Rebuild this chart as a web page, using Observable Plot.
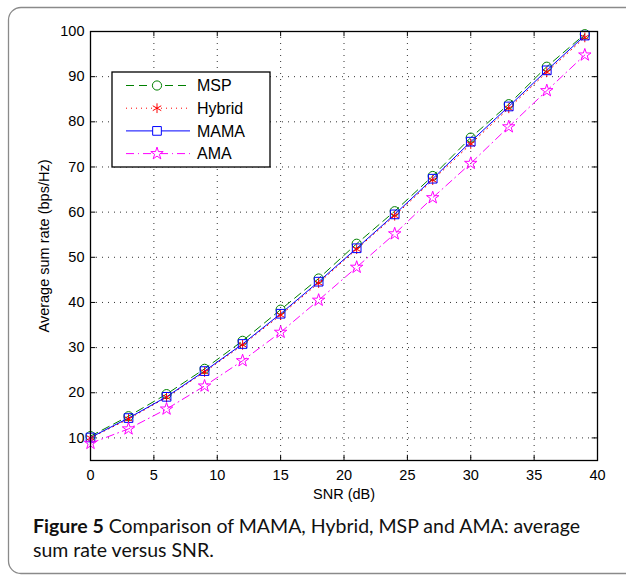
<!DOCTYPE html>
<html>
<head>
<meta charset="utf-8">
<script src="https://cdn.jsdelivr.net/npm/d3@7"></script>
<script src="https://cdn.jsdelivr.net/npm/@observablehq/plot@0.6"></script>
<style>
  html, body { margin: 0; padding: 0; background: #fff; overflow: hidden; }
  #wrap { position: relative; width: 626px; height: 578px; overflow: hidden; }
  #border { position: absolute; left: 0; top: 0; }
  #chart { position: absolute; left: 0; top: 0; }
  #caption { position: absolute; left: 33px; top: 514px; width: 590px;
             font-family: Lato, "Open Sans", sans-serif; font-size: 19.5px; line-height: 24px;
             color: #111; }
  #caption b { font-weight: 700; }
</style>
</head>
<body>
<div id="wrap">
  <svg id="border" width="626" height="578"><path d="M626,7.5 H21 A12.5,12.5 0 0 0 8.5,20 V561 A12.5,12.5 0 0 0 21,573.5 H626" fill="none" stroke="#8a8a8a" stroke-width="1.3"/></svg>
  <div id="chart"></div>
  <div id="caption"><b>Figure 5</b> Comparison of MAMA, Hybrid, MSP and AMA: average<br>sum rate versus SNR.</div>
</div>
<script>
const snr    = [0, 3, 6, 9, 12, 15, 18, 21, 24, 27, 30, 33, 36, 39];
const msp    = [10.4, 14.8, 19.7, 25.3, 31.5, 38.4, 45.3, 53.0, 60.2, 68.0, 76.5, 83.9, 92.2, 99.4];
const hybrid = [10.0, 14.2, 19.0, 24.6, 30.6, 37.2, 44.3, 51.8, 59.2, 67.1, 75.1, 83.0, 91.0, 98.7];
const mama   = [10.1, 14.4, 19.1, 24.8, 30.8, 37.5, 44.6, 52.0, 59.5, 67.4, 75.6, 83.4, 91.4, 99.1];
const ama    = [8.8, 12.0, 16.4, 21.5, 27.1, 33.4, 40.5, 47.8, 55.2, 63.2, 70.8, 78.9, 86.9, 94.8];
const xTicks = [0, 5, 10, 15, 20, 25, 30, 35, 40];
const yTicks = [10, 20, 30, 40, 50, 60, 70, 80, 90, 100];
const seriesNames = ["MSP", "Hybrid", "MAMA", "AMA"];

const styles = {
  MSP:    {color: "#008000", dash: "8,5", symbol: "circle", r: 4.6},
  Hybrid: {color: "#ff0000", dash: "1,4", symbol: "asterisk", r: 4.6},
  MAMA:   {color: "#0000ff", dash: null, symbol: "square", r: 4.9},
  AMA:    {color: "#ff00ff", dash: "8,4,1,4", symbol: "star", r: 3.9}
};
const values = {MSP: msp, Hybrid: hybrid, MAMA: mama, AMA: ama};
const rows = seriesNames.map(name => snr.map((x, i) => ({x, y: values[name][i], name})));

const W = 626, H = 510;
const marks = [
  Plot.gridX(xTicks, {stroke: "#000", strokeOpacity: 0.8, strokeDasharray: "1,5"}),
  Plot.gridY(yTicks, {stroke: "#000", strokeOpacity: 0.8, strokeDasharray: "1,5"}),
  Plot.axisX(xTicks, {tickSize: 0, tickPadding: 9, fontSize: 14.5, fontFamily: "Liberation Sans, Arial, sans-serif",
    label: "SNR (dB)", labelAnchor: "center", labelArrow: "none", labelOffset: 38, fill: "#000"}),
  Plot.axisY(yTicks, {tickSize: 0, tickPadding: 6, fontSize: 14.5, fontFamily: "Liberation Sans, Arial, sans-serif",
    label: "Average sum rate (bps/Hz)", labelAnchor: "center", labelArrow: "none", labelOffset: 52, fill: "#000"}),
  // inward ticks on all four sides
  Plot.ruleX(xTicks, {y1: 5, y2: 6.15, stroke: "#000"}),
  Plot.ruleX(xTicks, {y1: 100, y2: 98.85, stroke: "#000"}),
  Plot.ruleY(yTicks, {x1: 0, x2: 0.42, stroke: "#000"}),
  Plot.ruleY(yTicks, {x1: 40, x2: 39.58, stroke: "#000"})
];
for (const name of seriesNames) {
  const s = styles[name];
  const data = rows[seriesNames.indexOf(name)];
  marks.push(Plot.line(data, {x: "x", y: "y", stroke: s.color, strokeWidth: 1, strokeDasharray: s.dash}));
}
for (const name of seriesNames) {
  const s = styles[name];
  const data = rows[seriesNames.indexOf(name)];
  marks.push(Plot.dot(data, {x: "x", y: "y", stroke: s.color, fill: "none", strokeWidth: 1, symbol: s.symbol, r: s.r}));
}
marks.push(Plot.frame({stroke: "#000", strokeWidth: 1.3}));

const chart = Plot.plot({
  width: W, height: H,
  marginLeft: 90, marginRight: 29, marginTop: 31, marginBottom: 50,
  x: {domain: [0, 40]},
  y: {domain: [5, 100]},
  style: {fontFamily: "Liberation Sans, Arial, sans-serif", fontSize: "14.5px", color: "#000", background: "none"},
  marks
});
document.getElementById("chart").appendChild(chart);

// Legend box
const svg = d3.select(chart);
const lg = svg.append("g").attr("transform", "translate(112,72)");
lg.append("rect").attr("width", 158).attr("height", 95).attr("fill", "#fff").attr("stroke", "#000").attr("stroke-width", 1.3);
const symMap = {circle: d3.symbolCircle, asterisk: d3.symbolAsterisk, square: d3.symbolSquare, star: d3.symbolStar};
seriesNames.forEach((name, i) => {
  const s = styles[name];
  const yy = 13.5 + i * 22.7;
  lg.append("line").attr("x1", 14).attr("x2", 78).attr("y1", yy).attr("y2", yy)
    .attr("stroke", s.color).attr("stroke-width", 1).attr("stroke-dasharray", s.dash);
  lg.append("path").attr("d", d3.symbol(symMap[s.symbol], Math.PI * s.r * s.r)())
    .attr("transform", `translate(45,${yy})`).attr("fill", "#fff").attr("stroke", s.color).attr("stroke-width", 1);
  lg.append("text").attr("x", 85).attr("y", yy).attr("dy", "0.36em").attr("text-anchor", "start")
    .style("font-size", "16px").style("font-family", "Liberation Sans, Arial, sans-serif").attr("fill", "#000").text(name);
});
</script>
</body>
</html>
